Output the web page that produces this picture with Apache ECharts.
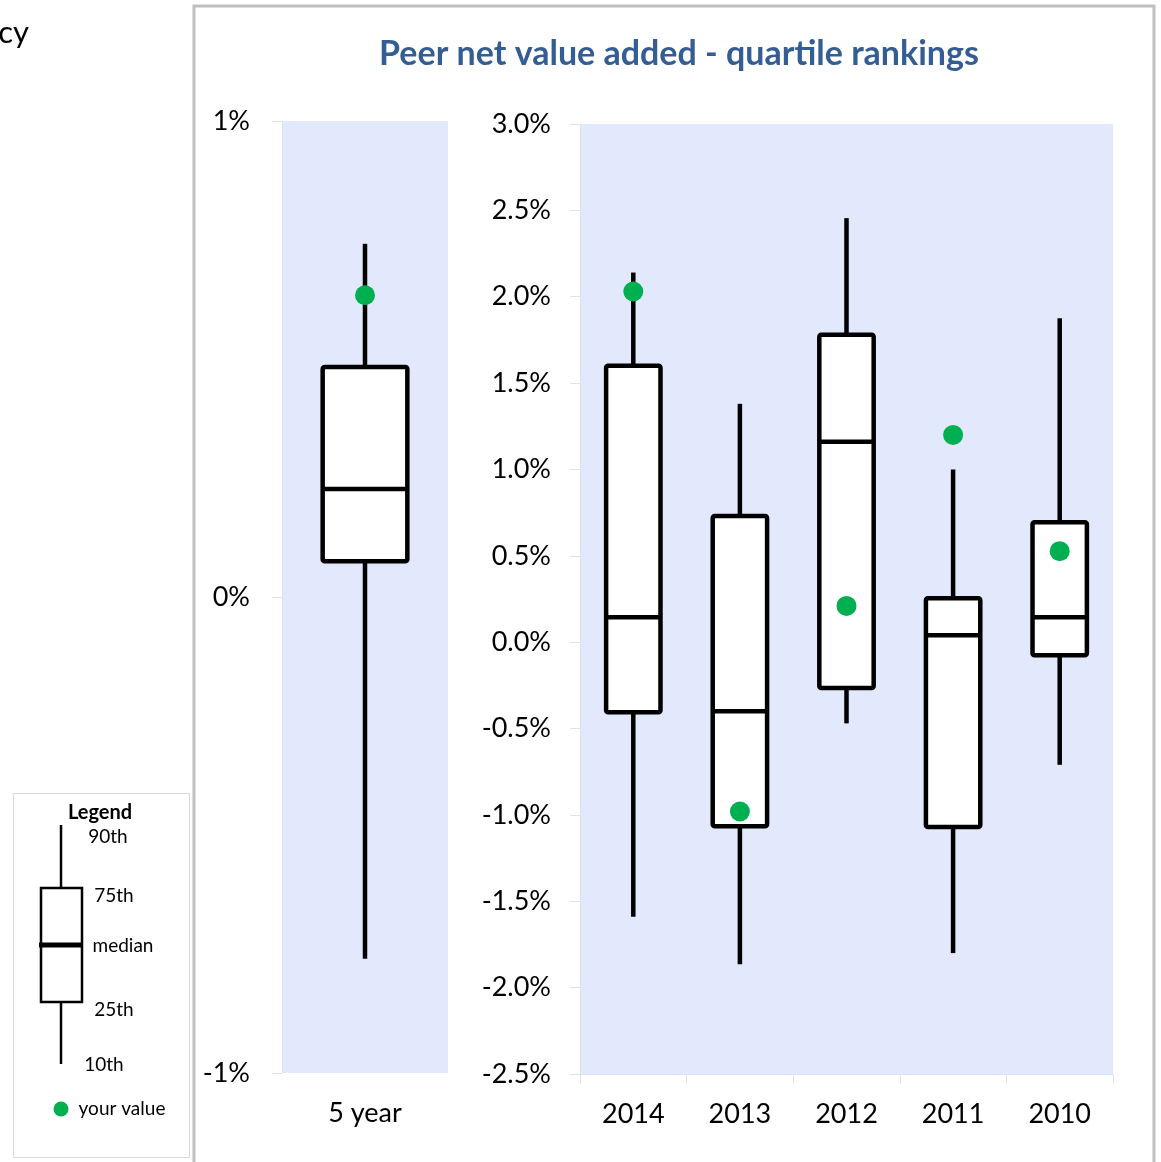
<!DOCTYPE html>
<html>
<head>
<meta charset="utf-8">
<script src="https://cdn.jsdelivr.net/npm/echarts@6/dist/echarts.min.js"></script>
<style>
  html, body { margin: 0; padding: 0; background: #fff; }
  #main { width: 1161px; height: 1162px; }
</style>
</head>
<body>
<div id="main"></div>
<script>
// percent values
var fiveYearCats = ['5 year'];
var fiveYearBoxes = [[-0.76, 0.075, 0.227, 0.483, 0.742]]; // 10th, 25th, median, 75th, 90th
var fiveYearYours = [0.634];

var yearCats = ['2014', '2013', '2012', '2011', '2010'];
var yearBoxes = [
  [-1.59, -0.405, 0.145, 1.60, 2.14],
  [-1.865, -1.065, -0.40, 0.73, 1.38],
  [-0.47, -0.265, 1.16, 1.78, 2.455],
  [-1.80, -1.07, 0.04, 0.255, 1.00],
  [-0.71, -0.075, 0.145, 0.695, 1.875]
];
var yearYours = [2.03, -0.98, 0.21, 1.20, 0.527];

var leftTicks = { min: -1, max: 1, interval: 1 };
var rightTicks = { min: -2.5, max: 3.0, interval: 0.5 };

var FONT = 'Lato';
var lavender = '#E3E9FD';
var axisGrey = '#D9E1F2';

function boxItem(params, api) {
  var x = api.value(0);
  var lo = api.coord([x, api.value(1)]);
  var q1 = api.coord([x, api.value(2)]);
  var med = api.coord([x, api.value(3)]);
  var q3 = api.coord([x, api.value(4)]);
  var hi = api.coord([x, api.value(5)]);
  var w = api.size([1, 0])[0] * 0.51;
  var cx = lo[0];
  var st = { stroke: '#000', lineWidth: 4.5, fill: 'none' };
  return {
    type: 'group',
    children: [
      { type: 'line', shape: { x1: cx, y1: hi[1], x2: cx, y2: q3[1] }, style: st },
      { type: 'line', shape: { x1: cx, y1: q1[1], x2: cx, y2: lo[1] }, style: st },
      { type: 'rect', shape: { x: cx - w / 2, y: q3[1], width: w, height: q1[1] - q3[1], r: 2 },
        style: { stroke: '#000', lineWidth: 4.5, fill: '#fff' } },
      { type: 'line', shape: { x1: cx - w / 2, y1: med[1], x2: cx + w / 2, y2: med[1] }, style: st }
    ]
  };
}

function toRows(boxes) {
  return boxes.map(function (b, i) { return [i].concat(b); });
}
function toDots(vals) {
  return vals.map(function (v, i) { return [i, v]; });
}

var chart = echarts.init(document.getElementById('main'));

var catAxisCommon = {
  type: 'category',
  axisLine: { show: true, onZero: false, lineStyle: { color: axisGrey, width: 1 } },
  axisTick: { show: true, alignWithLabel: false, length: 10, lineStyle: { color: axisGrey } },
  axisLabel: { color: '#000', fontFamily: FONT, fontSize: 27, margin: 27 },
  splitLine: { show: false }
};
var valAxisCommon = {
  type: 'value',
  axisLine: { show: true, lineStyle: { color: axisGrey, width: 1 } },
  axisTick: { show: true, length: 10, inside: false, lineStyle: { color: axisGrey } },
  splitLine: { show: false }
};

var option = {
  animation: false,
  backgroundColor: '#fff',
  title: {
    text: 'Peer net value added - quartile rankings',
    left: 674, top: 32, textAlign: 'center',
    textStyle: { color: '#345D93', fontFamily: FONT, fontWeight: 'bold', fontSize: 34 }
  },
  grid: [
    { left: 282, top: 121, width: 166, height: 952, show: true, backgroundColor: lavender, borderWidth: 0 },
    { left: 580, top: 124, width: 533, height: 950, show: true, backgroundColor: lavender, borderWidth: 0 }
  ],
  xAxis: [
    Object.assign({}, catAxisCommon, { gridIndex: 0, data: fiveYearCats, axisLine: { show: false }, axisTick: { show: false } }),
    Object.assign({}, catAxisCommon, { gridIndex: 1, data: yearCats })
  ],
  yAxis: [
    Object.assign({}, valAxisCommon, {
      gridIndex: 0, min: leftTicks.min, max: leftTicks.max, interval: leftTicks.interval,
      axisLabel: { color: '#000', fontFamily: FONT, fontSize: 27, margin: 32, formatter: function (v) { return v + '%'; } }
    }),
    Object.assign({}, valAxisCommon, {
      gridIndex: 1, min: rightTicks.min, max: rightTicks.max, interval: rightTicks.interval,
      axisLabel: { color: '#000', fontFamily: FONT, fontSize: 27, margin: 29, formatter: function (v) { return v.toFixed(1) + '%'; } }
    })
  ],
  series: [
    { type: 'custom', xAxisIndex: 0, yAxisIndex: 0, renderItem: boxItem, data: toRows(fiveYearBoxes), z: 2 },
    { type: 'scatter', xAxisIndex: 0, yAxisIndex: 0, data: toDots(fiveYearYours), symbolSize: 20,
      itemStyle: { color: '#00B050', opacity: 1 }, z: 5 },
    { type: 'custom', xAxisIndex: 1, yAxisIndex: 1, renderItem: boxItem, data: toRows(yearBoxes), z: 2 },
    { type: 'scatter', xAxisIndex: 1, yAxisIndex: 1, data: toDots(yearYours), symbolSize: 20,
      itemStyle: { color: '#00B050', opacity: 1 }, z: 5 }
  ],
  graphic: [
    // truncated text at the top-left edge
    { type: 'text', x: 29, y: 33, style: { text: 'cy', fontFamily: FONT, fontSize: 31, fill: '#000', align: 'right', verticalAlign: 'middle' } },
    // outer chart border
    { type: 'rect', shape: { x: 194, y: 6, width: 960, height: 1170 }, style: { fill: 'none', stroke: '#BFBFBF', lineWidth: 3 }, z: -1 },
    // legend panel
    { type: 'rect', shape: { x: 13.5, y: 793.5, width: 176, height: 364 }, style: { fill: '#fff', stroke: '#D9D9D9', lineWidth: 1 } },
    { type: 'text', x: 100, y: 813, style: { text: 'Legend', fontFamily: FONT, fontWeight: 'bold', fontSize: 20, fill: '#000', align: 'center', verticalAlign: 'middle' } },
    { type: 'line', shape: { x1: 61, y1: 825, x2: 61, y2: 888 }, style: { stroke: '#000', lineWidth: 2.5 } },
    { type: 'line', shape: { x1: 61, y1: 1002, x2: 61, y2: 1064 }, style: { stroke: '#000', lineWidth: 2.5 } },
    { type: 'rect', shape: { x: 41, y: 888, width: 41, height: 114 }, style: { fill: '#fff', stroke: '#000', lineWidth: 2.5 } },
    { type: 'line', shape: { x1: 39, y1: 945, x2: 83, y2: 945 }, style: { stroke: '#000', lineWidth: 5 } },
    { type: 'text', x: 108, y: 837, style: { text: '90th', fontFamily: FONT, fontSize: 19, fill: '#000', align: 'center', verticalAlign: 'middle' } },
    { type: 'text', x: 114, y: 896, style: { text: '75th', fontFamily: FONT, fontSize: 19, fill: '#000', align: 'center', verticalAlign: 'middle' } },
    { type: 'text', x: 123, y: 946, style: { text: 'median', fontFamily: FONT, fontSize: 19, fill: '#000', align: 'center', verticalAlign: 'middle' } },
    { type: 'text', x: 114, y: 1010, style: { text: '25th', fontFamily: FONT, fontSize: 19, fill: '#000', align: 'center', verticalAlign: 'middle' } },
    { type: 'text', x: 104, y: 1065, style: { text: '10th', fontFamily: FONT, fontSize: 19, fill: '#000', align: 'center', verticalAlign: 'middle' } },
    { type: 'circle', shape: { cx: 61, cy: 1109, r: 7.5 }, style: { fill: '#00B050' } },
    { type: 'text', x: 122, y: 1109, style: { text: 'your value', fontFamily: FONT, fontSize: 19, fill: '#000', align: 'center', verticalAlign: 'middle' } }
  ]
};

chart.setOption(option);
</script>
</body>
</html>
